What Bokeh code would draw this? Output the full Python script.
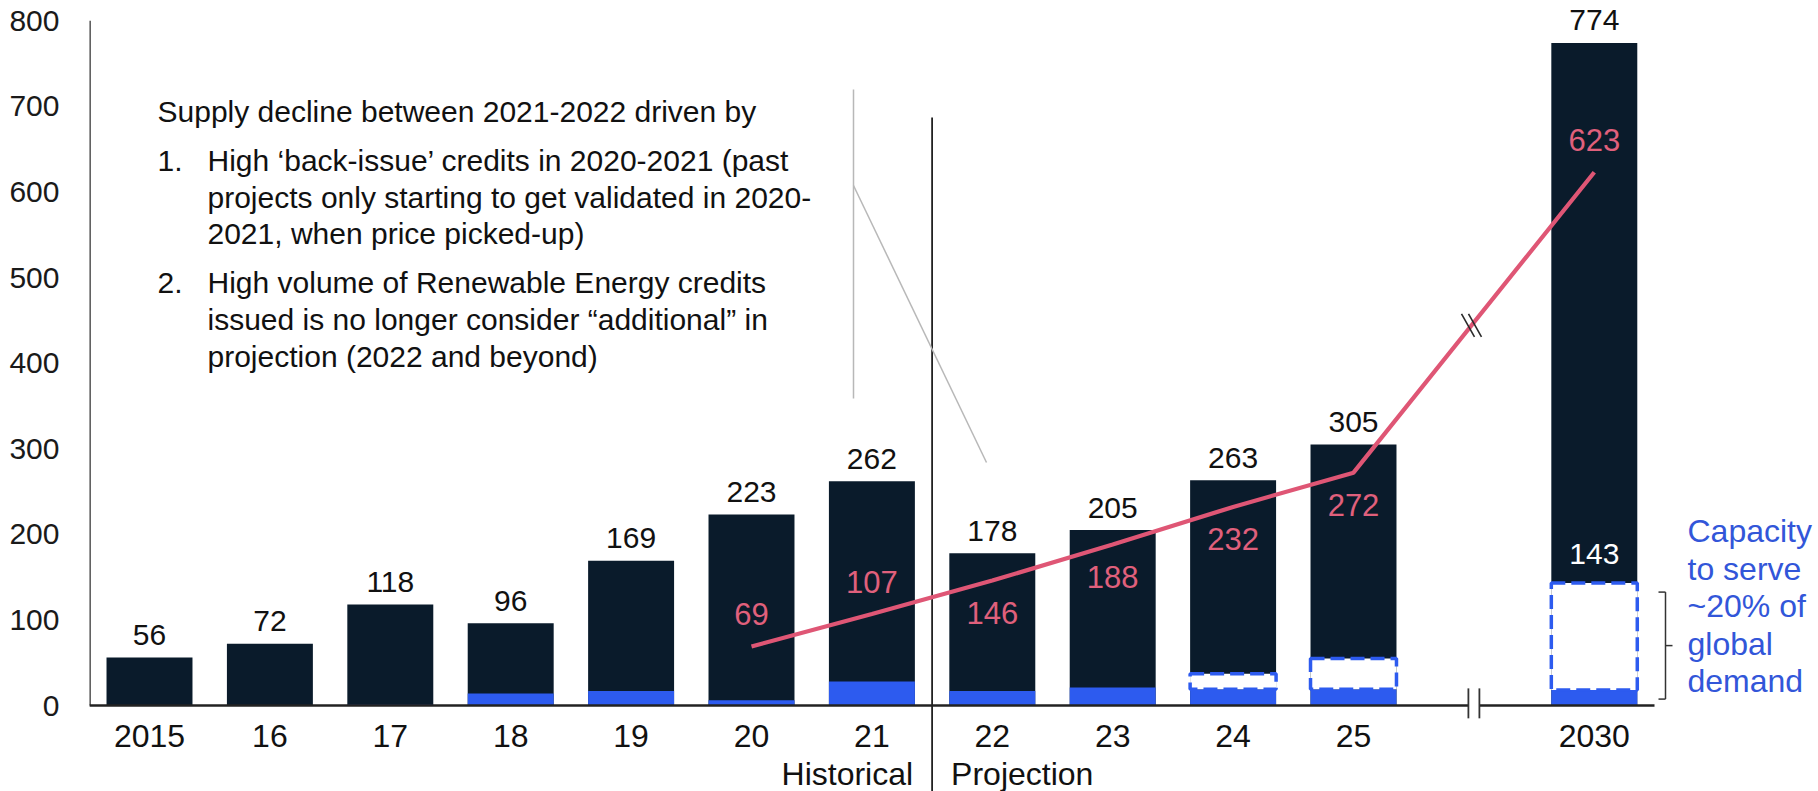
from bokeh.plotting import figure
from bokeh.models import Range1d, FixedTicker, ColumnDataSource
from bokeh.core.properties import value
from bokeh.embed import file_html
from bokeh.resources import INLINE

# ---- data -------------------------------------------------------------
categories = ["2015", "16", "17", "18", "19", "20", "21", "22", "23", "24", "25", "2030"]
positions = [0, 1, 2, 3, 4, 5, 6, 7, 8, 9, 10, 12]          # gap before 2030 (axis break)
total_supply = [56, 72, 118, 96, 169, 223, 262, 178, 205, 263, 305, 774]
base_segment = [0, 0, 1, 14, 17, 6, 28, 17, 21, 19, 19, 18]

capacity_years = ["24", "25", "2030"]
capacity_top = [37, 55, 143]

demand_years = ["20", "21", "22", "23", "24", "25", "2030"]
demand = [69, 107, 146, 188, 232, 272, 623]
demand_label_above = [True, True, False, False, False, False, True]

y_ticks = [0, 100, 200, 300, 400, 500, 600, 700, 800]

notes = [
    ("Supply decline between 2021-2022 driven by", 0),
    ("1.", 1), ("High \u2018back-issue\u2019 credits in 2020-2021 (past", 2),
    ("projects only starting to get validated in 2020-", 2),
    ("2021, when price picked-up)", 2),
    ("2.", 1), ("High volume of Renewable Energy credits", 2),
    ("issued is no longer consider \u201cadditional\u201d in", 2),
    ("projection (2022 and beyond)", 2),
]
capacity_note = ["Capacity", "to serve", "~20% of", "global", "demand"]

# ---- geometry / styling ------------------------------------------------
W, H = 1818, 791
LEFT = 89                 # width of the y-axis panel
STEP = 120.4              # pixels per category slot
FIRST = 149               # pixel centre of the first bar
ZERO = 705                # pixel row of the zero line
PPU = 0.856               # pixels per unit on the y scale
PX_X = 1.0 / STEP
PX_Y = 1.0 / PPU

DARK = "#0A1B2B"
BLUE = "#2D5BEF"
RED = "#DF5675"
RED_TXT = "#E0607C"
NOTE_BLUE = "#3256D9"
FONT = value("Liberation Sans")


def row(px):
    """data y for a pixel row of the canvas"""
    return (ZERO - px) * PX_Y


def col(px):
    """data x for a pixel column of the canvas"""
    return (px - FIRST) * PX_X


x_start = -(FIRST - LEFT) / STEP
x_end = x_start + (W - LEFT) / STEP
y_end = ZERO / PPU
y_start = -(H - ZERO) / PPU

p = figure(width=W, height=H, output_backend="svg", toolbar_location=None,
           x_range=Range1d(x_start, x_end), y_range=Range1d(y_start, y_end),
           x_axis_location=None, min_border_left=LEFT, min_border_right=0,
           min_border_top=0, min_border_bottom=0)
p.outline_line_color = None
p.grid.visible = False
p.background_fill_color = "white"
p.border_fill_color = "white"

ax = p.yaxis[0]
ax.ticker = FixedTicker(ticks=y_ticks)
ax.axis_line_color = None
ax.major_tick_line_color = None
ax.minor_tick_line_color = None
ax.major_label_standoff = 24
ax.major_label_text_font = "Liberation Sans"
ax.major_label_text_font_size = "30px"
ax.major_label_text_color = "#1a1a1a"

pos_of = dict(zip(categories, positions))

# ---- bars ----------------------------------------------------------------
bars = ColumnDataSource(dict(x=positions, top=total_supply, base=base_segment,
                             label=[str(v) for v in total_supply],
                             ly=[v + 22.5 * PX_Y for v in total_supply],
                             cat=categories))
p.vbar(x="x", top="top", width=0.714, source=bars, fill_color=DARK, line_color=None)
p.vbar(x="x", top="base", width=0.714, source=bars, fill_color=BLUE, line_color=None)

cap_x = [pos_of[c] for c in capacity_years]
cap_base = [base_segment[categories.index(c)] for c in capacity_years]
p.vbar(x=cap_x, bottom=cap_base, top=capacity_top, width=0.714,
       fill_color="white", line_color=BLUE, line_width=3.5, line_dash="14 6")

# label of the 2030 capacity box
p.text(x=[cap_x[-1]], y=[capacity_top[-1] + 29.5 * PX_Y], text=[str(capacity_top[-1])],
       text_align="center", text_baseline="middle", text_font=FONT,
       text_font_size="30px", text_color="white")

# ---- axis lines ------------------------------------------------------------
brk = 11
gap = 5.5 * PX_X
p.segment(x0=[-0.5 + 0.5 * PX_X], y0=[0], x1=[-0.5 + 0.5 * PX_X], y1=[y_ticks[-1]],
          line_color="#3a3a3a", line_width=2)
p.segment(x0=[-0.5, brk + gap], y0=[0, 0], x1=[brk - gap, 12.5], y1=[0, 0],
          line_color="#222222", line_width=2.5)
p.segment(x0=[brk - gap, brk + gap], y0=[20, 20], x1=[brk - gap, brk + gap], y1=[-15, -15],
          line_color="#333333", line_width=1.8)

# historical / projection divider
p.segment(x0=[6.5], y0=[row(117)], x1=[6.5], y1=[y_start],
          line_color="#222222", line_width=1.8)

# leader lines from the note
p.segment(x0=[col(853), col(853)], y0=[row(89), row(185)],
          x1=[col(853), col(986)], y1=[row(398), row(462)],
          line_color="#B8B8B8", line_width=1.5)

# ---- labels ------------------------------------------------------------------
p.text(x="x", y="ly", text="label", source=bars, text_align="center",
       text_baseline="middle", text_font=FONT, text_font_size="30px",
       text_color="#111111")
p.text(x="x", y=row(735), text="cat", source=bars,
       text_align="center", text_baseline="middle", text_font=FONT,
       text_font_size="32px", text_color="#111111")
p.text(x=[6.5 - 19 * PX_X, 6.5 + 19 * PX_X], y=[row(773)] * 2,
       text=["Historical", "Projection"], text_align=["right", "left"],
       text_baseline="middle", text_font=FONT, text_font_size="32px",
       text_color="#111111")

# ---- demand line ---------------------------------------------------------
dx = [pos_of[c] for c in demand_years]
p.line(x=dx, y=demand, line_color=RED, line_width=4.2)
ly = [v + (32 if up else -32) * PX_Y for v, up in zip(demand, demand_label_above)]
p.text(x=dx, y=ly, text=[str(v) for v in demand], text_align="center",
       text_baseline="middle", text_font=FONT, text_font_size="31px",
       text_color=RED_TXT)

# break marks on the segment 2025 -> 2030
i25 = demand_years.index("25")
xb = brk - 0.02
yb = demand[i25] + (demand[i25 + 1] - demand[i25]) * (xb - dx[i25]) / (dx[i25 + 1] - dx[i25])
mx, my = 6.5 * PX_X, 11.5 * PX_Y
offs = [-3.5 * PX_X, 3.5 * PX_X]
p.segment(x0=[xb + o - mx for o in offs], y0=[yb + my] * 2,
          x1=[xb + o + mx for o in offs], y1=[yb - my] * 2,
          line_color="#2a2a2a", line_width=1.6)

# ---- text note -----------------------------------------------------------
note_x = {0: 157, 1: 157, 2: 207}
baselines = [122, 171, 171, 208, 244, 293, 293, 330, 367]
p.text(x=[col(note_x[k]) for _, k in notes],
       y=[row(b - 11) for b in baselines],
       text=[t for t, _ in notes], text_align="left", text_baseline="middle",
       text_font=FONT, text_font_size="30px", text_color="#111111")

# ---- capacity bracket and note ----------------------------------------------
bx = cap_x[-1] + 0.5 + 11 * PX_X
b_top = capacity_top[-1] - 9 * PX_Y
b_bot = cap_base[-1] - 9 * PX_Y
stub = 7 * PX_X
p.segment(x0=[bx, bx - stub, bx - stub, bx], y0=[b_bot, b_top, b_bot, (b_top + b_bot) / 2],
          x1=[bx, bx, bx, bx + stub], y1=[b_top, b_top, b_bot, (b_top + b_bot) / 2],
          line_color="#333333", line_width=1.5)
p.text(x=[col(1687)] * len(capacity_note),
       y=[row(542 + 37.5 * i - 11.5) for i in range(len(capacity_note))],
       text=capacity_note, text_align="left", text_baseline="middle",
       text_font=FONT, text_font_size="32px", text_color=NOTE_BLUE)

open("out.html", "w").write(file_html(p, INLINE))
